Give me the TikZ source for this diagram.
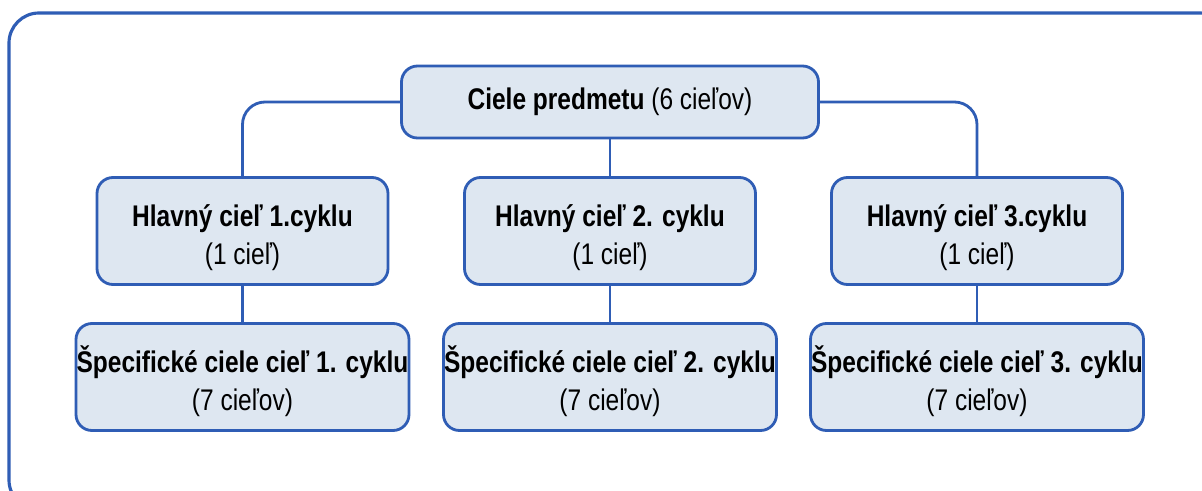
\documentclass[tikz,border=0pt]{standalone}
\usepackage{fontspec}
\setmainfont{Liberation Sans}[FakeStretch=0.82]
\usetikzlibrary{positioning}
\definecolor{lineblue}{HTML}{2F5DB5}
\definecolor{paleblue}{HTML}{DEE7F1}

\begin{document}
\begin{tikzpicture}[line width=1.6pt]

% Page size and outer frame
\useasboundingbox (0,0) rectangle (24.04,9.8);
\clip (0,0) rectangle (24.04,9.8);
\fill[white] (0,0) rectangle (24.04,9.8);
\draw[lineblue, line width=1.8pt, rounded corners=0.6cm] (0.18,-0.4) rectangle (24.6,9.54);

\tikzset{
  goalbox/.style={draw=lineblue, fill=paleblue, rounded corners=0.32cm, align=center,
    font=\fontsize{17}{22}\selectfont, inner sep=0pt},
  link/.style={draw=lineblue, rounded corners=0.45cm}
}

% Top node
\node[goalbox, minimum width=8.34cm, minimum height=1.44cm] (goals) at (12.2,7.76)
  {\textbf{Ciele predmetu} (6 cieľov)};

% ============================================================
% Three cycles
% ============================================================
\foreach \i/\xc/\sep in {1/4.85/, 2/12.2/ , 3/19.54/} {
  \node[goalbox, minimum width=5.82cm, minimum height=2.14cm] (main\i) at (\xc,5.18)
    {\rule{0pt}{20pt}\textbf{Hlavný cieľ \i.\sep cyklu}\\(1 cieľ)};
  \node[goalbox, minimum width=6.66cm, minimum height=2.14cm] (spec\i) at (\xc,2.26)
    {\rule{0pt}{20pt}\textbf{Špecifické ciele cieľ \i. cyklu}\\(7 cieľov)};
  \draw[link] (main\i) -- (spec\i);
}

% Links from the top node
\draw[link] (goals.west) -| (main1.north);
\draw[link] (goals) -- (main2);
\draw[link] (goals.east) -| (main3.north);

\end{tikzpicture}
\end{document}
